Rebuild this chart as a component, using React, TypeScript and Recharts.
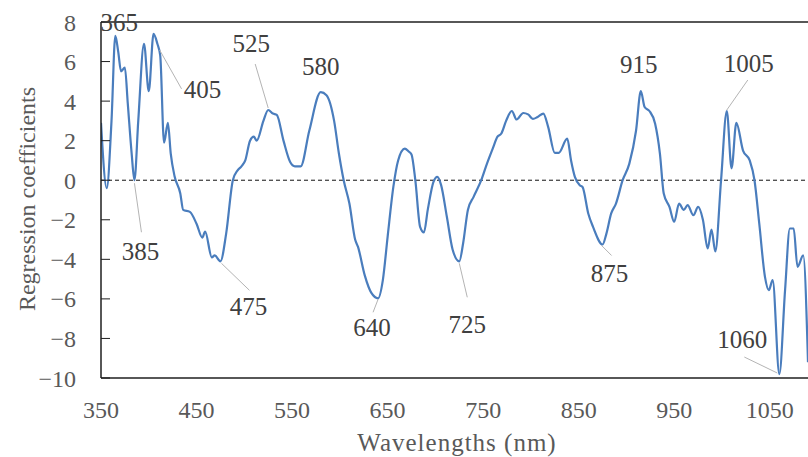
import React from "react";
import {
  LineChart,
  Line,
  XAxis,
  YAxis,
  ReferenceLine,
  ReferenceDot,
} from "recharts";

// Wavelength grid (nm)
const wavelengths: number[] = [
  350, 356, 361, 365, 368, 371, 375, 378, 382, 385, 389, 395, 400, 405, 409,
  412, 416, 420, 423, 427, 433, 436, 443, 450, 456, 459, 466, 469, 475, 481,
  488, 493, 497, 501, 506, 510, 513, 520, 525, 530, 534, 541, 548, 553, 559,
  568, 580, 586, 594, 599, 604, 610, 616, 619, 626, 633, 640, 645, 650, 656,
  661, 668, 672, 675, 679, 684, 688, 692, 698, 702, 706, 712, 718, 725, 729,
  734, 740, 748, 754, 760, 765, 769, 774, 780, 785, 792, 797, 802, 807, 813,
  818, 825, 829, 838, 842, 846, 851, 854, 860, 865, 875, 879, 884, 889, 896,
  903, 910, 915, 919, 924, 930, 935, 939, 945, 950, 955, 960, 964, 970, 975,
  980, 985, 989, 993, 999, 1005, 1010, 1015, 1022, 1029, 1034, 1039, 1045,
  1049, 1053, 1060, 1066, 1071, 1075, 1079, 1085, 1090,
];

// Regression coefficient at each wavelength
const coefficients: number[] = [
  2.9, -0.4, 3.0, 7.3, 6.5, 5.5, 5.7, 3.9, 1.4, 0.0, 3.0, 6.9, 4.5, 7.4, 6.9,
  6.3, 1.9, 2.9, 1.35, 0.2, -0.67, -1.5, -1.6, -2.2, -2.9, -2.6, -3.9, -3.8,
  -4.1, -2.7, 0.0, 0.5, 0.7, 1.0, 2.0, 2.2, 2.0, 3.0, 3.55, 3.37, 3.3, 2.0,
  0.92, 0.7, 0.7, 2.5, 4.45, 4.3, 3.0, 1.35, 0.0, -1.18, -3.0, -3.37, -4.8,
  -5.7, -5.97, -5.05, -2.86, -0.34, 1.0, 1.6, 1.45, 1.3, 0.0, -2.36, -2.64,
  -1.5, -0.08, 0.17, -0.25, -1.85, -3.5, -4.1, -3.2, -1.5, -0.84, 0.0, 0.84,
  1.6, 2.2, 2.36, 3.0, 3.5, 3.07, 3.4, 3.33, 3.1, 3.2, 3.37, 2.7, 1.38, 1.38,
  2.1, 1.0, 0.17, -0.25, -0.34, -1.68, -2.36, -3.25, -2.7, -1.68, -1.18, 0.0,
  0.84, 2.5, 4.5, 3.7, 3.5, 2.86, 1.35, -0.67, -1.35, -2.1, -1.18, -1.5,
  -1.26, -1.77, -1.35, -2.0, -3.45, -2.5, -3.6, 0.0, 3.5, 0.6, 2.9, 1.5, 1.0,
  0.0, -2.2, -4.9, -5.56, -5.05, -9.8, -5.56, -2.44, -2.44, -4.38, -3.8, -9.2,
];

// Characteristic wavelengths called out on the curve
const keyWavelengths: number[] = [
  365, 385, 405, 475, 525, 580, 640, 725, 875, 915, 1005, 1060,
];

const xTicks: number[] = [350, 450, 550, 650, 750, 850, 950, 1050];
const yTicks: number[] = [-10, -8, -6, -4, -2, 0, 2, 4, 6, 8];

const rows = wavelengths.map((w, i) => ({ wavelength: w, coef: coefficients[i] }));

const callouts = keyWavelengths.map((w) => ({
  wavelength: w,
  coef: coefficients[wavelengths.indexOf(w)],
}));

// Callout layout: leader start/end offsets and text anchor (baseline) relative to the point
type Layout = { lead?: [number, number, number, number]; tx: number; ty: number };
const calloutLayout: Record<number, Layout> = {
  365: { tx: 4, ty: -5 },
  385: { lead: [0, 3, 7, 52], tx: 6, ty: 80 },
  405: { lead: [6, 16, 28, 55], tx: 49, ty: 64 },
  475: { lead: [1, 2, 29, 29], tx: 28, ty: 54 },
  525: { lead: [0, -2, -13, -46], tx: -17, ty: -58 },
  580: { tx: 0, ty: -17 },
  640: { lead: [0, 1, -5, 14], tx: -6, ty: 38 },
  725: { lead: [0, 2, 8, 36], tx: 8, ty: 72 },
  875: { lead: [-1, 1, 9, 11], tx: 7, ty: 37 },
  915: { tx: -2, ty: -18 },
  1005: { lead: [0, -1, 21, -31], tx: 22, ty: -39 },
  1060: { lead: [-2, -1, -35, -17], tx: -37, ty: -26 },
};

const FONT = '"Liberation Serif", "Times New Roman", serif';
const TICK_COLOR = "#595959";
const AXIS_COLOR = "#1f1f1f";

const fmt = (v: number) => (v < 0 ? "\u2212" + Math.abs(v) : String(v));

const makeCallout = (w: number) => (props: any) => {
  const { cx, cy } = props;
  const l = calloutLayout[w];
  if (cx == null || cy == null || !l) return <g />;
  return (
    <g>
      {l.lead && (
        <line
          x1={cx + l.lead[0]}
          y1={cy + l.lead[1]}
          x2={cx + l.lead[2]}
          y2={cy + l.lead[3]}
          stroke="#b4b4b4"
          strokeWidth={1}
        />
      )}
      <text
        x={cx + l.tx}
        y={cy + l.ty}
        textAnchor="middle"
        fontFamily={FONT}
        fontSize={25}
        fill="#404040"
      >
        {w}
      </text>
    </g>
  );
};

export default function App() {
  return (
    <div
      style={{
        position: "absolute",
        left: 0,
        top: 0,
        width: 808,
        height: 457,
        overflow: "hidden",
        background: "#ffffff",
      }}
    >
      <LineChart
        width={808}
        height={457}
        data={rows}
        margin={{ top: 22, right: 0, bottom: 0, left: 0 }}
      >
        <XAxis
          dataKey="wavelength"
          type="number"
          domain={[350, 1090]}
          ticks={xTicks}
          allowDataOverflow
          height={79}
          tickLine={false}
          tickSize={0}
          tickMargin={23}
          axisLine={{ stroke: AXIS_COLOR, strokeWidth: 1.5 }}
          tick={{ fill: TICK_COLOR, fontSize: 24, fontFamily: FONT }}
          label={{
            content: () => (
              <text
                x={457}
                y={451}
                textAnchor="middle"
                fontFamily={FONT}
                fontSize={25}
                letterSpacing={1}
                fill={TICK_COLOR}
              >
                Wavelengths (nm)
              </text>
            ),
          }}
        />
        <YAxis
          type="number"
          domain={[-10, 8]}
          ticks={yTicks}
          width={101}
          interval={0}
          tickFormatter={fmt}
          tickSize={-9}
          tickMargin={34}
          tickLine={{ stroke: AXIS_COLOR }}
          axisLine={{ stroke: AXIS_COLOR, strokeWidth: 1.5 }}
          tick={{ fill: TICK_COLOR, fontSize: 24, fontFamily: FONT }}
          label={{
            content: () => (
              <text
                x={35}
                y={199}
                transform="rotate(-90, 35, 199)"
                textAnchor="middle"
                fontFamily={FONT}
                fontSize={24}
                fill={TICK_COLOR}
              >
                Regression coefficients
              </text>
            ),
          }}
        />
        <ReferenceLine y={8} stroke={AXIS_COLOR} strokeWidth={1.5} ifOverflow="visible" />
        <ReferenceLine y={0} stroke="#111111" strokeWidth={1} strokeDasharray="4 3" />
        <Line
          type="monotone"
          dataKey="coef"
          stroke="#4a7dbd"
          strokeWidth={2.2}
          dot={false}
          activeDot={false}
          isAnimationActive={false}
        />
        {callouts.map((c) => (
          <ReferenceDot
            key={c.wavelength}
            x={c.wavelength}
            y={c.coef}
            r={0}
            ifOverflow="visible"
            shape={makeCallout(c.wavelength)}
          />
        ))}
      </LineChart>
    </div>
  );
}
